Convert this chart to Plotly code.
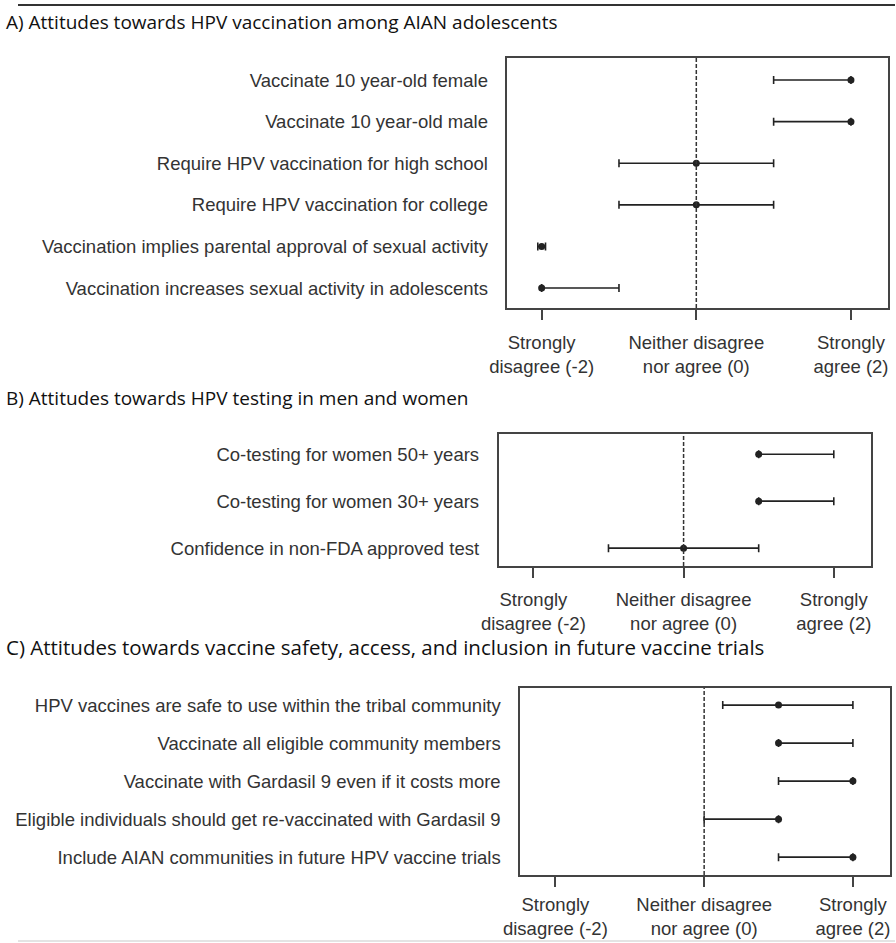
import plotly.graph_objects as go

# ---- data ----
tick_vals = [-2, 0, 2]
tick_text = ["Strongly<br>disagree (-2)", "Neither disagree<br>nor agree (0)", "Strongly<br>agree (2)"]

titles = [
    "A) Attitudes towards HPV vaccination among AIAN adolescents",
    "B) Attitudes towards HPV testing in men and women",
    "C) Attitudes towards vaccine safety, access, and inclusion in future vaccine trials",
]

A_labels = ["Vaccinate 10 year-old female", "Vaccinate 10 year-old male",
            "Require HPV vaccination for high school", "Require HPV vaccination for college",
            "Vaccination implies parental approval of sexual activity",
            "Vaccination increases sexual activity in adolescents"]
A_median = [2, 2, 0, 0, -2, -2]
A_low = [1, 1, -1, -1, -2.05, -2]
A_high = [2, 2, 1, 1, -1.95, -1]

B_labels = ["Co-testing for women 50+ years", "Co-testing for women 30+ years",
            "Confidence in non-FDA approved test"]
B_median = [1, 1, 0]
B_low = [1, 1, -1]
B_high = [2, 2, 1]

C_labels = ["HPV vaccines are safe to use within the tribal community",
            "Vaccinate all eligible community members",
            "Vaccinate with Gardasil 9 even if it costs more",
            "Eligible individuals should get re-vaccinated with Gardasil 9",
            "Include AIAN communities in future HPV vaccine trials"]
C_median = [1, 1, 2, 1, 2]
C_low = [0.25, 1, 1, 0, 1]
C_high = [2, 2, 2, 1, 2]

# ---- layout geometry (pixels) ----
W, H = 896, 943
panels = [
    dict(labels=A_labels, med=A_median, lo=A_low, hi=A_high,
         box=(500, 889, 58, 308), xr=[-2.443, 2.481], yr=[5.48, -0.53],
         title_y=22, title_size=19, tstand=7),
    dict(labels=B_labels, med=B_median, lo=B_low, hi=B_high,
         box=(491, 871, 434, 566), xr=[-2.463, 2.489], yr=[2.38, -0.43],
         title_y=398, title_size=19, tstand=6),
    dict(labels=C_labels, med=C_median, lo=C_low, hi=C_high,
         box=(513, 891, 688, 875), xr=[-2.474, 2.50], yr=[4.47, -0.45],
         title_y=647, title_size=20.5, tstand=2),
]

LAB_FONT = dict(family="Liberation Sans, Arial, sans-serif", size=18.5, color="#333333")
INK = "#222222"

fig = go.Figure()
shapes = []
annotations = []
layout_axes = {}

for i, p in enumerate(panels):
    n = "" if i == 0 else str(i + 1)
    xa, ya = "x" + n, "y" + n
    fig.add_trace(go.Scatter(
        x=p["med"], y=p["labels"], xaxis=xa, yaxis=ya, mode="markers",
        marker=dict(color=INK, size=7, symbol="circle"),
        error_x=dict(type="data", symmetric=False,
                     array=[h - m for h, m in zip(p["hi"], p["med"])],
                     arrayminus=[m - l for m, l in zip(p["med"], p["lo"])],
                     color=INK, thickness=1.6, width=4),
        showlegend=False, hoverinfo="skip"))
    x0, x1, y0, y1 = p["box"]
    layout_axes["xaxis" + n] = dict(
        domain=[x0 / W, x1 / W], range=p["xr"], anchor=ya,
        tickvals=tick_vals, ticktext=tick_text, ticks="outside", ticklen=10,
        tickwidth=1.5, tickcolor="#444444", showline=True, linecolor="#444444",
        linewidth=1.5, mirror=True, showgrid=False, zeroline=False,
        tickfont=LAB_FONT, ticklabelstandoff=p["tstand"], fixedrange=True)
    layout_axes["yaxis" + n] = dict(
        domain=[1 - y1 / H, 1 - y0 / H], type="category",
        categoryorder="array", categoryarray=p["labels"], range=p["yr"],
        anchor=xa, showline=True, linecolor="#444444", linewidth=1.5, mirror=True,
        showgrid=False, zeroline=False, ticks="", tickfont=LAB_FONT,
        ticklabelstandoff=14, fixedrange=True)
    shapes.append(dict(type="line", xref=xa, yref=ya + " domain", x0=0, x1=0, y0=0, y1=1,
                       line=dict(color="#333333", width=1.5, dash="4px,2px")))
    annotations.append(dict(text=titles[i], xref="paper", yref="paper",
                            x=0, y=1 - p["title_y"] / H, xanchor="left", xshift=-14,
                            yanchor="middle", showarrow=False,
                            font=dict(family="Open Sans, sans-serif",
                                      size=p["title_size"], color="#111111")))

shapes.append(dict(type="line", xref="paper", yref="paper", x0=0, x1=1,
                   y0=1 - 5 / H, y1=1 - 5 / H, line=dict(color="#333333", width=2)))
shapes.append(dict(type="line", xref="paper", yref="paper", x0=0, x1=1,
                   y0=1 - 941 / H, y1=1 - 941 / H, line=dict(color="#e4e4e4", width=2)))

fig.update_layout(
    width=W, height=H, margin=dict(l=0, r=0, t=0, b=0),
    paper_bgcolor="white", plot_bgcolor="white",
    shapes=shapes, annotations=annotations, **layout_axes)

fig.write_html("out.html", config={"displayModeBar": False},
               post_script="document.body.style.margin='0';document.body.style.overflow='hidden';")
